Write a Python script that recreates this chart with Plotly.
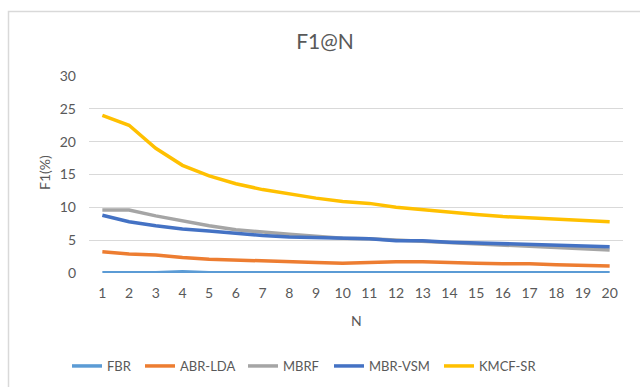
import plotly.graph_objects as go

# F1 score (%) at top-N for each recommender
n_values = list(range(1, 21))
fbr = [0.05, 0.05, 0.05, 0.2, 0.05, 0.05, 0.05, 0.05, 0.05, 0.05,
       0.05, 0.05, 0.05, 0.05, 0.05, 0.05, 0.05, 0.05, 0.05, 0.05]
abr_lda = [3.25, 2.9, 2.75, 2.35, 2.1, 1.95, 1.85, 1.75, 1.6, 1.5,
           1.65, 1.7, 1.7, 1.55, 1.5, 1.4, 1.4, 1.25, 1.2, 1.05]
mbrf = [9.6, 9.6, 8.7, 7.9, 7.2, 6.6, 6.2, 5.9, 5.6, 5.3,
        5.2, 5.0, 4.9, 4.7, 4.5, 4.3, 4.1, 3.8, 3.7, 3.5]
mbr_vsm = [8.8, 7.8, 7.2, 6.7, 6.4, 6.0, 5.7, 5.5, 5.4, 5.3,
           5.2, 4.9, 4.9, 4.7, 4.6, 4.5, 4.4, 4.2, 4.1, 4.0]
kmcf_sr = [24.0, 22.5, 19.0, 16.4, 14.8, 13.6, 12.7, 12.0, 11.4, 10.9,
           10.6, 10.0, 9.6, 9.2, 8.9, 8.6, 8.4, 8.2, 8.0, 7.8]

series = [
    ("FBR", fbr, "#5B9BD5"),
    ("ABR-LDA", abr_lda, "#ED7D31"),
    ("MBRF", mbrf, "#A5A5A5"),
    ("MBR-VSM", mbr_vsm, "#4472C4"),
    ("KMCF-SR", kmcf_sr, "#FFC000"),
]

FONT = "Lato"
TEXT_COLOR = "#595959"

# plot area in pixels
L, R, T, B = 89, 623, 76, 273
W, H = 640, 387

def px_x(px):
    return (px - L) / (R - L)

def px_y(py):
    return (B - py) / (B - T)

# each entry gets its own legend so the row can be spaced freely
legend_x_px = [67, 140, 243, 329, 439]

fig = go.Figure()
legend_layouts = {}
for i, (name, vals, color) in enumerate(series):
    key = "legend" if i == 0 else f"legend{i + 1}"
    fig.add_trace(go.Scatter(
        x=n_values, y=vals, name=name, mode="lines",
        line=dict(color=color, width=3.5),
        legend=key,
    ))
    legend_layouts[key] = dict(
        x=px_x(legend_x_px[i]), y=px_y(366), xanchor="left", yanchor="middle",
        orientation="h", bgcolor="rgba(0,0,0,0)", borderwidth=0,
        font=dict(family=FONT, size=13, color=TEXT_COLOR),
        itemclick=False,
    )

fig.update_layout(
    width=W, height=H,
    margin=dict(l=L, r=W - R, t=T, b=H - B, autoexpand=False),
    paper_bgcolor="white", plot_bgcolor="white",
    font=dict(family=FONT, size=13, color=TEXT_COLOR),
    title=dict(text="F1@N", x=325 / W, xref="container",
               y=1 - 42 / H, yref="container", xanchor="center", yanchor="middle",
               font=dict(family=FONT, size=21, color=TEXT_COLOR)),
    xaxis=dict(
        tickmode="array", tickvals=n_values, ticktext=[str(v) for v in n_values],
        range=[0.5, 20.5], showgrid=False, zeroline=False, showline=False,
        ticks="", ticklabelstandoff=10, automargin=False,
        tickfont=dict(family=FONT, size=14, color=TEXT_COLOR),
    ),
    yaxis=dict(
        range=[0, 30], tickvals=[0, 5, 10, 15, 20, 25, 30],
        showgrid=True, gridcolor="#D9D9D9", gridwidth=1,
        zeroline=False, showline=False, ticks="", ticklabelstandoff=12,
        automargin=False,
        tickfont=dict(family=FONT, size=14, color=TEXT_COLOR),
    ),
    showlegend=True,
    **legend_layouts,
)

# axis titles
fig.add_annotation(text="F1(%)", x=px_x(44), y=px_y(173), xref="paper", yref="paper",
                   xanchor="center", yanchor="middle",
                   showarrow=False, textangle=-90,
                   font=dict(family=FONT, size=14, color=TEXT_COLOR))
fig.add_annotation(text="N", x=px_x(356), y=px_y(320), xref="paper", yref="paper",
                   xanchor="center", yanchor="middle",
                   showarrow=False,
                   font=dict(family=FONT, size=14, color=TEXT_COLOR))

# chart frame
fig.add_shape(type="rect", xref="paper", yref="paper",
              x0=px_x(8.5), x1=px_x(700), y0=px_y(11.5), y1=px_y(450),
              line=dict(color="#D9D9D9", width=1.5), layer="below")

fig.write_html("out.html")
